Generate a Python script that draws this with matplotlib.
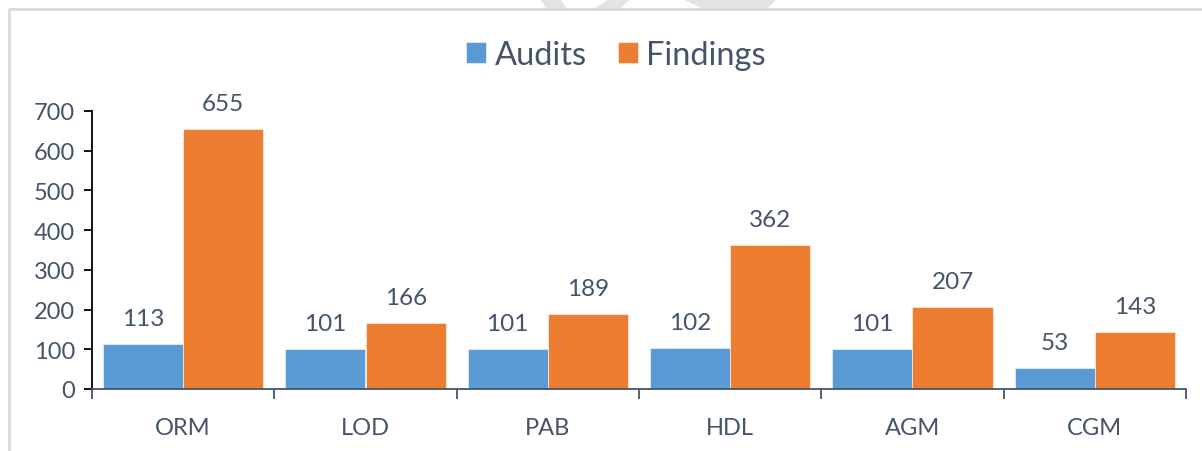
import numpy as np
import matplotlib.pyplot as plt
from matplotlib.patches import Polygon
from matplotlib.lines import Line2D

categories = ['ORM', 'LOD', 'PAB', 'HDL', 'AGM', 'CGM']
audits = [113, 101, 101, 102, 101, 53]
findings = [655, 166, 189, 362, 207, 143]
yticks = [0, 100, 200, 300, 400, 500, 600, 700]

plt.rcParams['font.family'] = ['Lato', 'DejaVu Sans']
txt = '#44546A'
blue = '#5B9BD5'
orange = '#ED7D31'

W, H = 1202, 452
fig = plt.figure(figsize=(W / 100, H / 100), dpi=100)

# faint watermark remnants above the frame
for pts in [[(540, 0), (560, 0), (567, 10), (547, 10)],
            [(610, 0), (630, 0), (620, 10), (593, 10)],
            [(683, 0), (777, 0), (767, 10), (703, 10)]]:
    fig.add_artist(Polygon([(x / W, 1 - y / H) for x, y in pts], closed=True,
                           transform=fig.transFigure, color='#e3e3e3', lw=0))

# light grey chart frame
fig.add_artist(Line2D([9 / W, 9 / W, 1], [0, 1 - 10 / H, 1 - 10 / H],
                      transform=fig.transFigure, color='#d9d9d9', lw=2))

ax = fig.add_axes([92 / W, 1 - 390 / H, (1186 - 92) / W, (390 - 112) / H])
x = np.arange(len(categories))
bw = 0.44
b1 = ax.bar(x - bw / 2, audits, bw, color=blue, edgecolor='white', linewidth=0.4, label='Audits')
b2 = ax.bar(x + bw / 2, findings, bw, color=orange, edgecolor='white', linewidth=0.4, label='Findings')

for bars, vals in [(b1, audits), (b2, findings)]:
    for r, v in zip(bars, vals):
        ax.annotate(str(v), (r.get_x() + r.get_width() / 2, v), xytext=(0, 11),
                    textcoords='offset points', ha='center', va='bottom',
                    fontsize=17.5, color=txt)

ax.set_xlim(-0.5, len(categories) - 0.5)
ax.set_ylim(0, 700)
ax.set_yticks(yticks)
ax.tick_params(axis='y', direction='out', length=6, width=1.3, color='black',
               labelcolor=txt, labelsize=17, pad=6)

# category ticks sit between groups, labels at group centres
ax.set_xticks(np.arange(len(categories) + 1) - 0.5)
ax.set_xticklabels([])
ax.set_xticks(x, minor=True)
ax.set_xticklabels(categories, minor=True)
ax.tick_params(axis='x', which='major', direction='out', length=7, width=1.3, color=txt)
ax.tick_params(axis='x', which='minor', length=0, labelcolor=txt, labelsize=17, pad=20)

for s in ['top', 'right']:
    ax.spines[s].set_visible(False)
ax.spines['left'].set_color('black')
ax.spines['left'].set_linewidth(1.3)
ax.spines['bottom'].set_color(txt)
ax.spines['bottom'].set_linewidth(1.3)

fig.legend(handles=[b1, b2], loc='center', bbox_to_anchor=(616 / W, 1 - 56 / H), ncol=2,
           frameon=False, fontsize=23.5, labelcolor=txt, handlelength=0.62, handleheight=0.62,
           handletextpad=0.25, columnspacing=0.95)

fig.savefig('out.png', dpi=100)
